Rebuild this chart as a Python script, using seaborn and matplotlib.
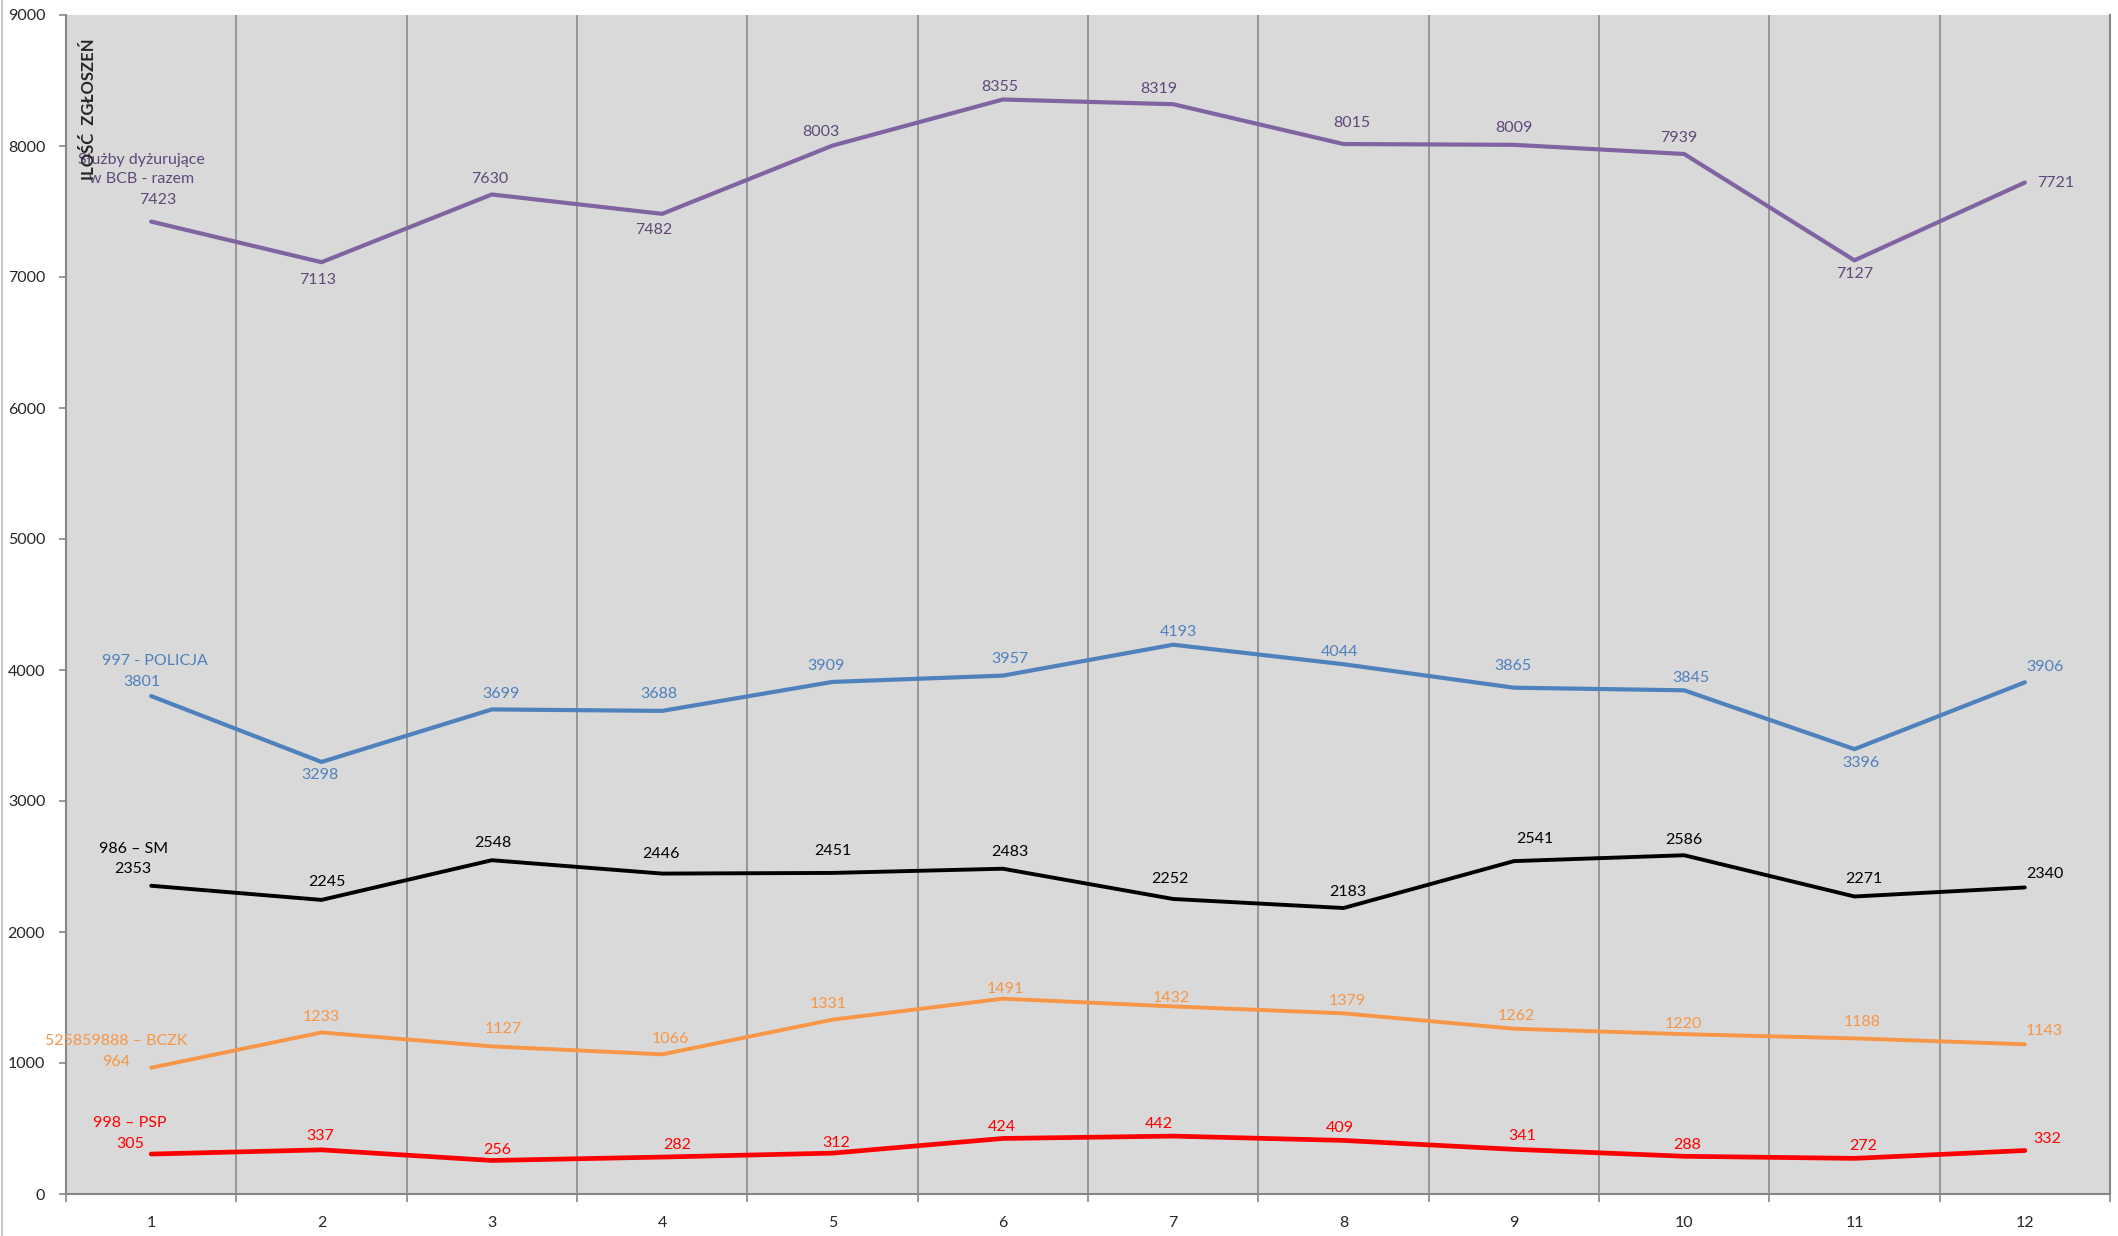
import seaborn as sns
import matplotlib.pyplot as plt
import pandas as pd
import numpy as np

# dane
miesiace = ["1", "2", "3", "4", "5", "6", "7", "8", "9", "10", "11", "12"]
razem = [7423, 7113, 7630, 7482, 8003, 8355, 8319, 8015, 8009, 7939, 7127, 7721]
policja = [3801, 3298, 3699, 3688, 3909, 3957, 4193, 4044, 3865, 3845, 3396, 3906]
straz_miejska = [2353, 2245, 2548, 2446, 2451, 2483, 2252, 2183, 2541, 2586, 2271, 2340]
bczk = [964, 1233, 1127, 1066, 1331, 1491, 1432, 1379, 1262, 1220, 1188, 1143]
psp = [305, 337, 256, 282, 312, 424, 442, 409, 341, 288, 272, 332]

nazwy = ["Służby dyżurujące\nw BCB - razem", "997 - POLICJA", "986 – SM",
         "525859888 – BCZK", "998 – PSP"]

# przesunięcia etykiet (piksele)
off_razem = [(7, 22), (-4, -18), (-2, 15), (-8, -16), (-12, 14), (-3, 12),
             (-14, 15), (8, 21), (0, 17), (-5, 16), (0, -14), (31, 0)]
off_policja = [(-9, 14), (-2, -13), (9, 15), (-3, 17), (-7, 16), (7, 17),
               (5, 13), (-4, 12), (-1, 22), (7, 12), (6, -14), (20, 15)]
off_sm = [(-18, 17), (5, 18), (1, 17), (-1, 20), (0, 22), (7, 17),
          (-3, 20), (4, 16), (21, 22), (0, 15), (9, 17), (20, 13)]
off_bczk = [(-35, 6), (0, 15), (11, 17), (8, 15), (-4, 16), (2, 10),
            (-2, 8), (4, 12), (3, 13), (-1, 10), (8, 16), (19, 13)]
off_psp = [(-21, 10), (-1, 14), (5, 10), (15, 12), (4, 10), (-1, 11),
           (-14, 12), (-4, 12), (8, 13), (3, 11), (9, 12), (22, 12)]
off_nazwy = [(-10, 52), (4, 35), (-18, 37), (-35, 27), (-21, 31)]

serie = [razem, policja, straz_miejska, bczk, psp]
offsety = [off_razem, off_policja, off_sm, off_bczk, off_psp]
kolory_linii = ["#8064A2", "#4F81BD", "#000000", "#F79646", "#FF0000"]
kolory_tekstu = ["#5F497A", "#4F81BD", "#000000", "#F79646", "#FF0000"]
grubosci = [3.0, 3.0, 2.8, 2.8, 3.4]

sns.set_style("white", {"axes.facecolor": "#D9D9D9"})
plt.rcParams['font.family'] = ['Lato', 'DejaVu Sans']

df = pd.concat([pd.DataFrame({"x": np.arange(12), "wartosc": s, "seria": n})
                for s, n in zip(serie, nazwy)])

fig = plt.figure(figsize=(21.18, 12.36), dpi=100)
ax = fig.add_axes([66 / 2118, 42 / 1236, 2044 / 2118, 1179 / 1236])

for nazwa, kolor, lw in zip(nazwy, kolory_linii, grubosci):
    sns.lineplot(data=df[df["seria"] == nazwa], x="x", y="wartosc",
                 color=kolor, linewidth=lw, ax=ax, legend=False)

for s, offs, kt, nazwa, on in zip(serie, offsety, kolory_tekstu, nazwy, off_nazwy):
    for i, v in enumerate(s):
        ax.annotate(str(v), (i, v), xytext=offs[i], textcoords="offset pixels",
                    ha="center", va="center", color=kt, fontsize=11.5)
    ax.annotate(nazwa, (0, s[0]), xytext=on, textcoords="offset pixels",
                ha="center", va="center", color=kt, fontsize=11.5,
                linespacing=1.5)

ax.set_xlim(-0.5, 11.5)
ax.set_ylim(0, 9000)
ax.set_yticks(range(0, 9001, 1000))
ax.set_xticks(np.arange(-0.5, 12, 1))
ax.set_xticklabels([])
ax.set_xticks(np.arange(12), minor=True)
ax.set_xticklabels(miesiace, minor=True)
ax.tick_params(axis="x", which="major", length=6, width=1.2, color="#868686",
               direction="out", bottom=True)
ax.tick_params(axis="x", which="minor", length=0, pad=16, labelsize=11.5)
ax.tick_params(axis="y", length=5, width=1.2, color="#868686", direction="out",
               left=True, pad=10, labelsize=11.5)
ax.grid(axis="x", which="major", color="#8C8C8C", linewidth=1.2)
ax.set_axisbelow(True)
for side in ["left", "bottom", "right"]:
    ax.spines[side].set_color("#868686")
    ax.spines[side].set_linewidth(1.5)
ax.spines["top"].set_visible(False)
ax.set_xlabel("")
ax.set_ylabel("")

ax.text(0.0113, 8283, "ILOŚĆ  ZGŁOSZEŃ", transform=ax.get_yaxis_transform(),
        rotation=90, ha="center", va="center", fontsize=12, fontweight="bold")

fig.add_artist(plt.Line2D([0.0009, 0.0009], [0, 1], color="#BFBFBF", lw=1.2))

plt.savefig("out.png", dpi=100)
plt.close("all")
